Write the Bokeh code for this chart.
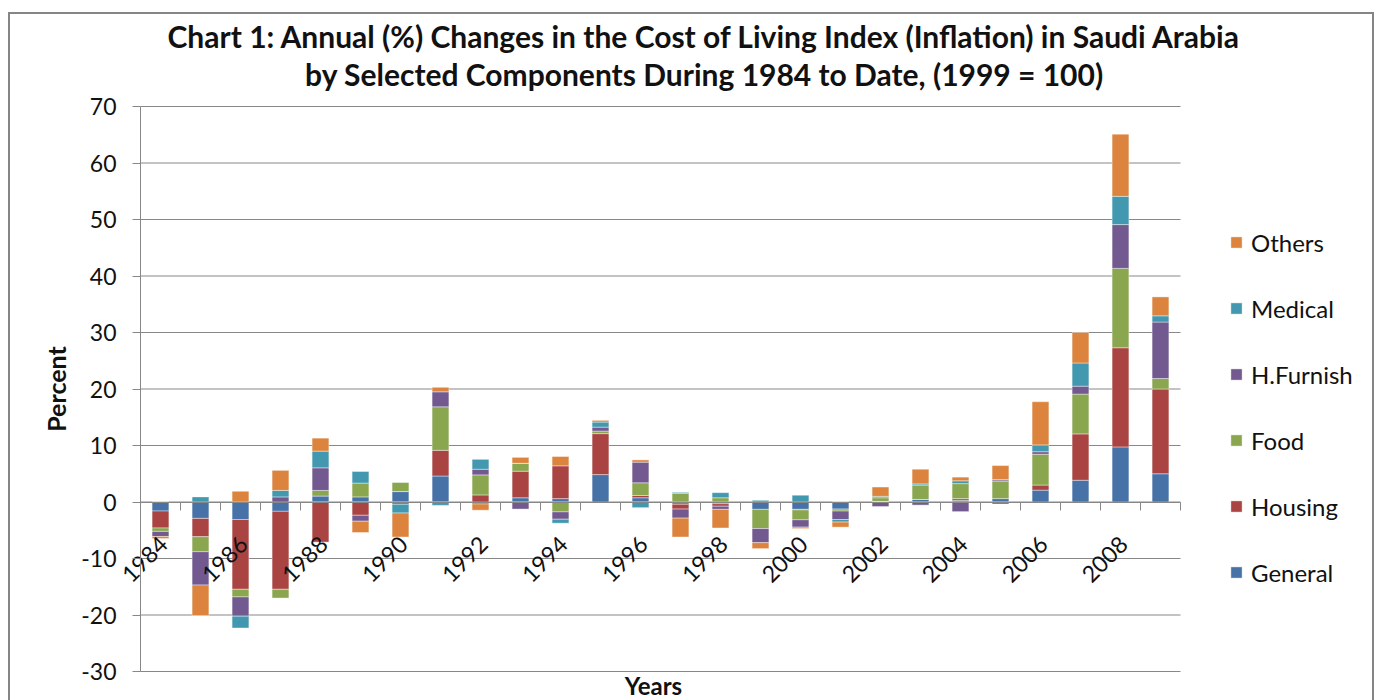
import numpy as np
from math import pi
from bokeh.plotting import figure
from bokeh.models import Range1d, FixedTicker, Legend, LegendItem, Label, ColumnDataSource
from bokeh.core.properties import value
from bokeh.embed import file_html
from bokeh.resources import INLINE

# ---------------- data ----------------
years = list(range(1984, 2010))
general   = [-1.6, -2.9, -3.1, -1.65, 1.05, 0.9, 1.85, 4.6, -0.35, 0.75, 0.6, 4.85, 0.75,
             -0.4, -0.3, -1.3, -1.3, -1.25, 0.1, 0.45, 0.3, 0.6, 2.1, 3.85, 9.75, 5.0]
housing   = [-3.0, -3.25, -12.35, -13.8, -7.1, -2.35, 0.0, 4.55, 1.25, 4.7, 5.8, 7.25, 0.4,
             -0.85, -0.45, 0.0, -0.1, 0.0, 0.0, 0.0, 0.3, -0.35, 0.9, 8.2, 17.55, 15.0]
food      = [-0.6, -2.65, -1.35, -1.55, 1.0, 2.45, 1.6, 7.7, 3.55, 1.4, -1.75, 0.45, 2.25,
             1.5, 0.75, -3.4, -1.75, -0.35, 0.65, 2.55, 2.65, 3.1, 5.45, 7.05, 14.05, 1.85]
hfurnish  = [-0.9, -5.9, -3.4, 0.9, 4.0, -1.05, -0.4, 2.65, 1.0, -1.25, -1.3, 0.7, 3.65,
             -1.6, -0.55, -2.5, -1.3, -1.5, -0.8, -0.55, -1.7, 0.25, 0.45, 1.4, 7.75, 10.0]
medical   = [0.0, 0.9, -2.1, 1.15, 2.95, 2.05, -1.55, -0.6, 1.75, 0.0, -0.7, 0.9, -1.0,
             0.2, 0.9, 0.3, 1.2, -0.45, 0.25, 0.2, 0.5, 0.0, 1.2, 4.1, 5.0, 1.1]
others    = [-0.35, -5.4, 1.9, 3.55, 2.3, -2.0, -4.25, 0.8, -1.1, 1.05, 1.65, 0.3, 0.4,
             -3.35, -3.3, -1.05, -0.25, -0.9, 1.65, 2.6, 0.65, 2.5, 7.65, 5.4, 11.0, 3.35]

series_names = ["General", "Housing", "Food", "H.Furnish", "Medical", "Others"]
series_values = [general, housing, food, hfurnish, medical, others]
series_colors = ["#4672A8", "#A94442", "#8AA64F", "#72598F", "#4198AF", "#DC843E"]

tick_years = years[::2]
tick_labels = [str(y) for y in tick_years]
y_ticks = list(range(-30, 80, 10))
y_tick_labels = [str(t) for t in y_ticks]

title_line1 = "Chart 1: Annual (%) Changes in the Cost of Living Index (Inflation) in Saudi Arabia"
title_line2 = "by Selected Components During 1984 to Date, (1999 = 100)"
x_title = "Years"
y_title = "Percent"

FONT = "Lato"
TXT = "#111111"
GRID = "#878787"

# ---------------- geometry (figure pixels) ----------------
W, H = 1366, 690          # figure size; the plot frame fills all of it
CAT_LEFT = 130            # pixel column where the first category starts
PX_YEAR = 40.0            # pixels per category
TOP_PX, BOT_PX = 92, 657  # pixel rows of y=70 and y=-30
PPU = (BOT_PX - TOP_PX) / 100.0

x_lo = years[0] - 0.5 - CAT_LEFT / PX_YEAR
x_hi = x_lo + W / PX_YEAR
y_hi = 70 + TOP_PX / PPU
y_lo = -30 - (H - BOT_PX) / PPU

def fx(px):   # figure-pixel column -> data x
    return x_lo + px / PX_YEAR

def fy(py):   # figure-pixel row -> data y
    return 70 - (py - TOP_PX) / PPU

# ---------------- figure ----------------
p = figure(width=W, height=H, output_backend="svg", toolbar_location=None,
           x_range=Range1d(x_lo, x_hi), y_range=Range1d(y_lo, y_hi),
           min_border_left=0, min_border_right=0, min_border_top=0, min_border_bottom=0)
p.outline_line_color = None
p.background_fill_color = "white"
p.border_fill_color = "white"
p.styles = {"border": "2px solid #858585", "margin-left": "8px", "margin-top": "12px"}

# horizontal grid lines limited to the category area
p.xgrid.visible = False
p.ygrid.visible = False
p.segment(x0=[years[0] - 0.5] * len(y_ticks), x1=[years[-1] + 0.5] * len(y_ticks),
          y0=y_ticks, y1=y_ticks, line_color=GRID, line_width=1)

# stacked bars (positive and negative values stacked separately, like Excel)
n = len(years)
pos = np.zeros(n)
neg = np.zeros(n)
renderers = []
for name, vals, color in zip(series_names, series_values, series_colors):
    v = np.array(vals, dtype=float)
    bottom = np.where(v >= 0, pos, neg)
    top = bottom + v
    pos = np.where(v >= 0, top, pos)
    neg = np.where(v < 0, top, neg)
    r = p.vbar(x=years, bottom=bottom, top=top, width=0.42, fill_color=color,
               line_color="white", line_alpha=0.5, line_width=0.8)
    renderers.append(r)

# y axis placed at the left edge of the categories
p.yaxis.fixed_location = years[0] - 0.5
p.yaxis.ticker = FixedTicker(ticks=y_ticks)
p.yaxis.bounds = (y_ticks[0], y_ticks[-1])
p.yaxis.major_label_overrides = dict(zip(y_ticks, y_tick_labels))
p.yaxis.axis_line_color = GRID
p.yaxis.major_tick_line_color = GRID
p.yaxis.major_tick_out = 8
p.yaxis.major_tick_in = 0
p.yaxis.minor_tick_line_color = None
p.yaxis.major_label_standoff = 16
p.yaxis.major_label_text_font = FONT
p.yaxis.major_label_text_font_size = "23px"
p.yaxis.major_label_text_color = TXT
p.yaxis.axis_label = y_title
p.yaxis.axis_label_text_font = FONT
p.yaxis.axis_label_text_font_size = "25px"
p.yaxis.axis_label_text_font_style = "bold"
p.yaxis.axis_label_text_color = TXT
p.yaxis.axis_label_standoff = 7

# x axis drawn at zero with category-boundary ticks; labels as rotated text
boundaries = [y - 0.5 for y in years] + [years[-1] + 0.5]
p.xaxis.fixed_location = 0
p.xaxis.ticker = FixedTicker(ticks=tick_years, minor_ticks=boundaries)
p.xaxis.bounds = (years[0] - 0.5, years[-1] + 0.5)
p.xaxis.axis_line_color = GRID
p.xaxis.major_tick_line_color = None
p.xaxis.major_tick_out = 0
p.xaxis.major_tick_in = 0
p.xaxis.minor_tick_line_color = GRID
p.xaxis.minor_tick_out = 8
p.xaxis.minor_tick_in = 0
p.xaxis.major_label_text_font_size = "0px"
p.xaxis.major_label_text_alpha = 0

lab_src = ColumnDataSource(dict(x=tick_years, y=[0] * len(tick_years), text=tick_labels))
p.text(x="x", y="y", text="text", source=lab_src, angle=pi / 4,
       x_offset=-16, y_offset=57, text_align="center", text_baseline="middle",
       text_font=value(FONT), text_font_size="23px", text_color=TXT)

# axis title below
p.add_layout(Label(x=fx(643), y=fy(671), text=x_title, text_align="center",
                   text_baseline="middle", text_font=FONT, text_font_size="24px",
                   text_font_style="bold", text_color=TXT))

# chart title (two centred lines)
for txt, row in [(title_line1, 21), (title_line2, 59)]:
    p.add_layout(Label(x=fx(694), y=fy(row), text=txt, text_align="center",
                       text_baseline="middle", text_font=FONT, text_font_size="30px",
                       text_font_style="bold", text_color=TXT))

# legend (reverse order), right of the bars
items = [LegendItem(label=nm, renderers=[r]) for nm, r in zip(series_names, renderers)][::-1]
legend = Legend(items=items, location=(1219, 117), padding=0, margin=0, spacing=36,
                glyph_width=14, glyph_height=14, label_height=30, label_standoff=8,
                label_text_font=FONT, label_text_font_size="24px", label_text_color=TXT,
                border_line_color=None, background_fill_alpha=0)
p.add_layout(legend, "center")

open("out.html", "w").write(file_html(p, INLINE))
